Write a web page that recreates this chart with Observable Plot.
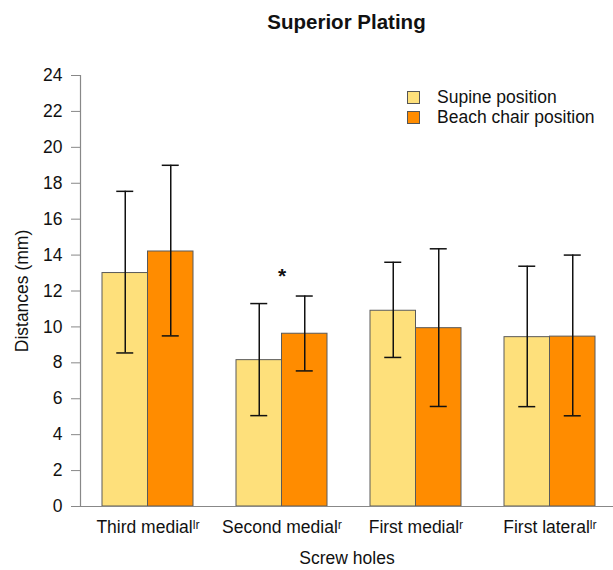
<!DOCTYPE html>
<html>
<head>
<meta charset="utf-8">
<script src="https://cdn.jsdelivr.net/npm/d3@7"></script>
<script src="https://cdn.jsdelivr.net/npm/@observablehq/plot@0.6"></script>
<style>
  html, body { margin: 0; padding: 0; background: #fff; }
  #wrap { position: relative; width: 613px; height: 570px; font-family: "Liberation Sans", Arial, sans-serif; color: #111; }
  #title { height: 45px; line-height: 44px; padding-left: 80px; text-align: center; font-weight: bold; font-size: 20.5px; }
  #legend { position: absolute; left: 407px; top: 88px; font-size: 17.5px; }
  .row { display: flex; align-items: center; height: 19.5px; }
  .sw { width: 11px; height: 11px; border: 1px solid #555; margin-right: 17px; }
</style>
</head>
<body>
<div id="wrap">
  <div id="title">Superior Plating</div>
  <div id="chart"></div>
  <div id="legend"></div>
</div>
<script>
const groups = ["Third medial", "Second medial", "First medial", "First lateral"];
const superscripts = ["ˡʳ", "ʳ", "ʳ", "ˡʳ"];
const seriesNames = ["Supine position", "Beach chair position"];
const seriesColors = ["#FEE07B", "#FF8C00"];

const supineMean = [13.0, 8.15, 10.9, 9.43];
const supineLow  = [8.55, 5.06, 8.3, 5.56];
const supineHigh = [17.55, 11.3, 13.6, 13.38];
const beachMean  = [14.2, 9.62, 9.93, 9.46];
const beachLow   = [9.5, 7.55, 5.57, 5.05];
const beachHigh  = [19.0, 11.72, 14.35, 14.0];

const yTicks = [0, 2, 4, 6, 8, 10, 12, 14, 16, 18, 20, 22, 24];
const sigGroups = ["Second medial"];
const sigY = [12.8];

const supine = groups.map((g, i) => ({group: g, mean: supineMean[i], lo: supineLow[i], hi: supineHigh[i]}));
const beach = groups.map((g, i) => ({group: g, mean: beachMean[i], lo: beachLow[i], hi: beachHigh[i]}));
const sig = sigGroups.map((g, i) => ({group: g, y: sigY[i]}));

const W = 613, H = 525, ML = 80, MR = 0, MT = 30, MB = 64;
const xOpts = {type: "band", domain: groups, paddingInner: 0.323, paddingOuter: 0.144, align: 0.54};
const bw = Plot.scale({x: {...xOpts, range: [ML, W - MR]}}).bandwidth;
const capHalf = 8.5;
const supMap = new Map(groups.map((g, i) => [g, superscripts[i]]));

const errMarks = (rows, sign) => [
  Plot.ruleX(rows, {x: "group", y1: "lo", y2: "hi", dx: sign * bw / 4, stroke: "#111", strokeWidth: 1.5}),
  Plot.tickY(rows, {x: "group", y: "hi", dx: sign * bw / 4, insetLeft: bw / 2 - capHalf, insetRight: bw / 2 - capHalf, stroke: "#111", strokeWidth: 1.5}),
  Plot.tickY(rows, {x: "group", y: "lo", dx: sign * bw / 4, insetLeft: bw / 2 - capHalf, insetRight: bw / 2 - capHalf, stroke: "#111", strokeWidth: 1.5})
];

const chart = Plot.plot({
  width: W, height: H,
  marginLeft: ML, marginRight: MR, marginTop: MT, marginBottom: MB,
  style: {fontFamily: "Liberation Sans, Arial, sans-serif", fontSize: "17.5px", color: "#111", background: "#fff"},
  x: xOpts,
  y: {domain: [0, 24]},
  marks: [
    Plot.barY(supine, {x: "group", y: "mean", insetRight: bw / 2, fill: seriesColors[0], stroke: "#5a5a5a", strokeWidth: 1}),
    Plot.barY(beach, {x: "group", y: "mean", insetLeft: bw / 2, fill: seriesColors[1], stroke: "#5a5a5a", strokeWidth: 1}),
    ...errMarks(supine, -1),
    ...errMarks(beach, 1),
    Plot.text(sig, {x: "group", y: "y", text: () => "*", fontSize: 21, fontWeight: "bold", fill: "#111"}),
    Plot.ruleY([0], {stroke: "#888", strokeWidth: 1.2}),
    Plot.frame({anchor: "left", stroke: "#888", strokeWidth: 1.2}),
    Plot.axisY({ticks: yTicks, tickSize: 9, tickPadding: 9, stroke: "#888", fill: "#111",
      label: "Distances (mm)", labelAnchor: "center", labelArrow: "none", labelOffset: 65}),
    Plot.axisX({tickSize: 0, tickPadding: 14, fill: "#111", tickFormat: d => d + supMap.get(d),
      label: "Screw holes", labelAnchor: "center", labelArrow: "none", labelOffset: 57})
  ]
});
document.getElementById("chart").appendChild(chart);

const legend = document.getElementById("legend");
seriesNames.forEach((name, i) => {
  const row = document.createElement("div");
  row.className = "row";
  const sw = document.createElement("div");
  sw.className = "sw";
  sw.style.background = seriesColors[i];
  const t = document.createElement("span");
  t.textContent = name;
  row.appendChild(sw);
  row.appendChild(t);
  legend.appendChild(row);
});
</script>
</body>
</html>
